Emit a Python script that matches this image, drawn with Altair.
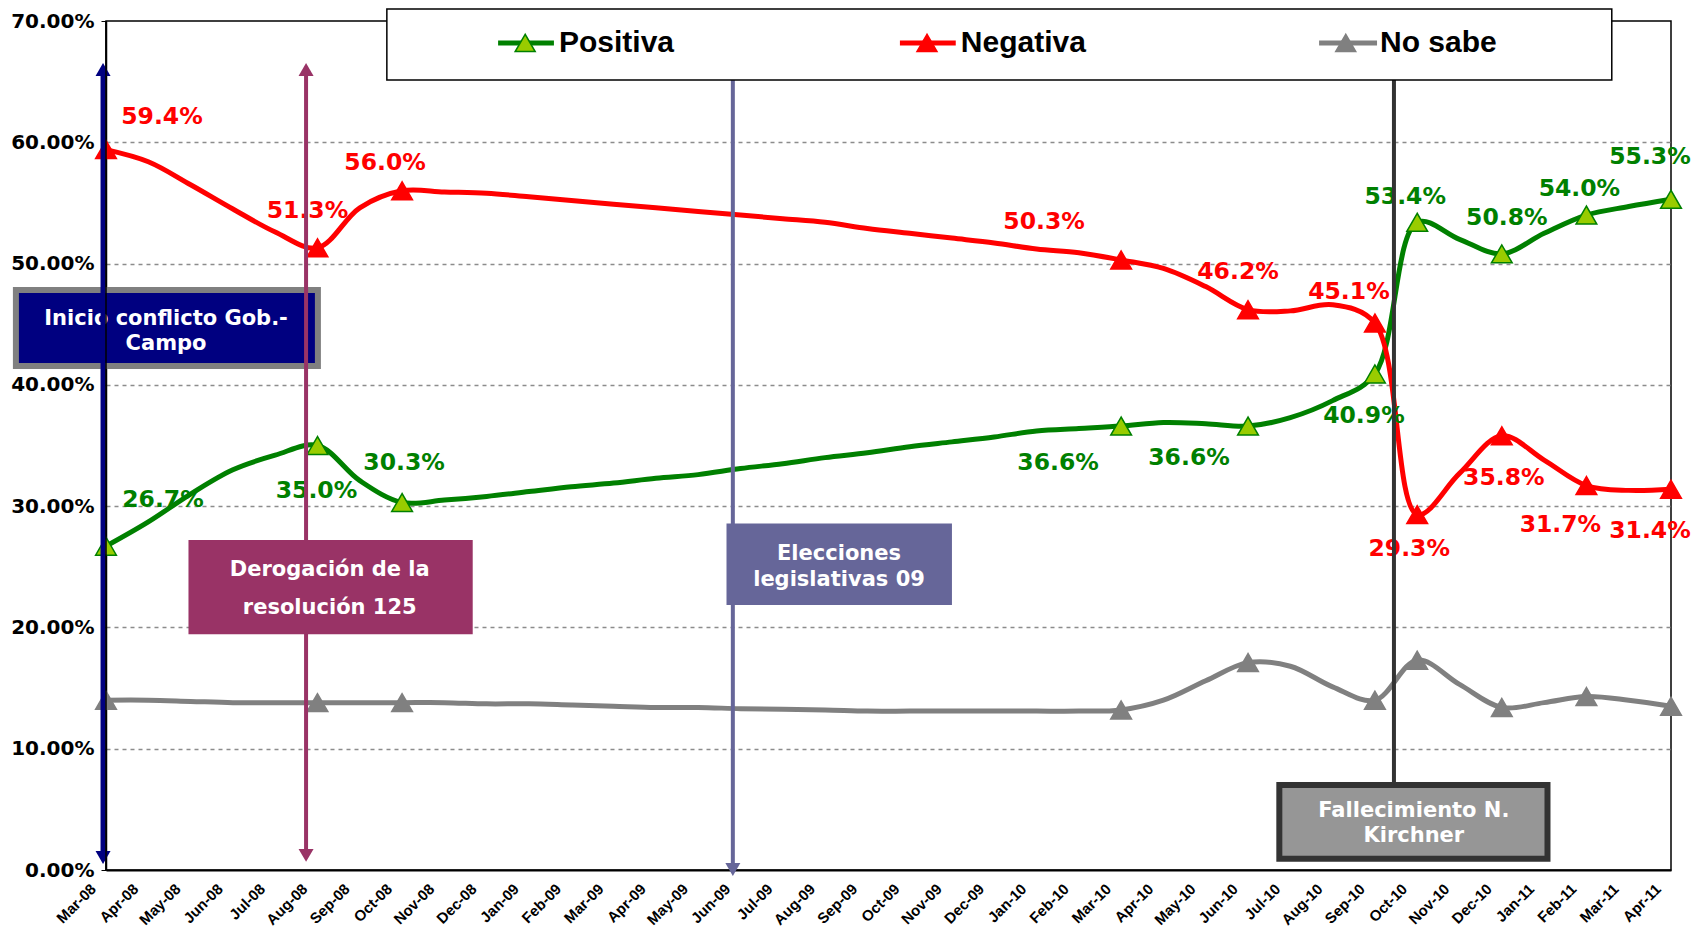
import json
import altair as alt
import pandas as pd

# ---------------- data ----------------
months = ["Mar-08", "Apr-08", "May-08", "Jun-08", "Jul-08", "Aug-08", "Sep-08", "Oct-08", "Nov-08", "Dec-08",
          "Jan-09", "Feb-09", "Mar-09", "Apr-09", "May-09", "Jun-09", "Jul-09", "Aug-09", "Sep-09", "Oct-09",
          "Nov-09", "Dec-09", "Jan-10", "Feb-10", "Mar-10", "Apr-10", "May-10", "Jun-10", "Jul-10", "Aug-10",
          "Sep-10", "Oct-10", "Nov-10", "Dec-10", "Jan-11", "Feb-11", "Mar-11", "Apr-11"]

positiva = [26.7, 28.7, 31.0, 33.0, 34.2, 35.0, 32.1, 30.3, 30.5, 30.8,
            31.2, 31.6, 31.9, 32.3, 32.6, 33.1, 33.5, 34.0, 34.4, 34.9,
            35.3, 35.7, 36.2, 36.4, 36.6, 36.9, 36.8, 36.6, 37.3, 38.7,
            40.9, 53.4, 52.0, 50.8, 52.5, 54.0, 54.7, 55.3]

negativa = [59.4, 58.4, 56.5, 54.5, 52.6, 51.3, 54.6, 56.0, 55.9, 55.8,
            55.5, 55.2, 54.9, 54.6, 54.3, 54.0, 53.7, 53.4, 52.9, 52.5,
            52.1, 51.7, 51.2, 50.9, 50.3, 49.6, 48.1, 46.2, 46.1, 46.6,
            45.1, 29.3, 32.7, 35.8, 33.8, 31.7, 31.3, 31.4]

nosabe = [14.0, 14.0, 13.9, 13.8, 13.8, 13.8, 13.8, 13.8, 13.8, 13.7,
          13.7, 13.6, 13.5, 13.4, 13.4, 13.3, 13.25, 13.2, 13.1, 13.1,
          13.1, 13.1, 13.1, 13.1, 13.2, 14.0, 15.6, 17.1, 16.8, 15.1,
          14.0, 17.3, 15.3, 13.4, 13.8, 14.3, 14.0, 13.5]

marker_months = [0, 5, 7, 24, 27, 30, 31, 33, 35, 37]

series_names = ["Positiva", "Negativa", "No sabe"]
series_values = [positiva, negativa, nosabe]
line_colors = ["#008000", "#FF0000", "#808080"]
marker_fills = ["#99CC00", "#FF0000", "#808080"]

events = ["Inicio conflicto Gob.-\nCampo", "Derogación de la\nresolución 125",
          "Elecciones\nlegislativas 09", "Fallecimiento N.\nKirchner"]

# ---------------- layout / style ----------------
W, H = 1565, 849
X_MAX, Y_MAX = 37, 70
PX_X = W / X_MAX
PX_Y = H / Y_MAX

# pixel offsets of the value labels from their markers (dx, dy)
label_offsets = {
    "Positiva": [(57, -46), (-1, 45), (2, -40), (-63, 37), (-59, 32), (-11, 42), (-12, -25), (5, -36), (-7, -26), (-21, -42)],
    "Negativa": [(56, -33), (-10, -37), (-17, -28), (-77, -38), (-10, -38), (-26, -31), (-8, 34), (2, 42), (-26, 39), (-21, 42)],
}

xscale = alt.Scale(domain=[0, X_MAX], nice=False, zero=False)
yscale = alt.Scale(domain=[0, Y_MAX], nice=False, zero=True)

x_axis = alt.Axis(values=list(range(len(months))), labelExpr=json.dumps(months) + "[datum.value]",
                  labelAngle=-45, labelFont="Liberation Sans", labelFontSize=15, labelFontWeight="bold",
                  labelColor="black", labelOffset=-18, labelPadding=11, labelOverlap=False,
                  ticks=False, tickSize=0, domainColor="black", domainWidth=2, grid=False, title=None)
y_axis = alt.Axis(values=list(range(0, 71, 10)), labelExpr="format(datum.value, '.2f') + '%'",
                  labelFont="DejaVu Sans", labelFontSize=20, labelFontWeight="bold", labelColor="black",
                  labelPadding=7, tickSize=5, tickColor="black", domainColor="black", domainWidth=1.5,
                  grid=True, gridColor="#8c8c8c", gridDash=[4, 4], gridWidth=1.5,
                  gridOpacity={"condition": {"test": "datum.value == 0 || datum.value == 70", "value": 0}, "value": 1},
                  title=None)


def X(f="x"):
    return alt.X(f, type="quantitative", scale=xscale, axis=x_axis)


def Y(f="y"):
    return alt.Y(f, type="quantitative", scale=yscale, axis=y_axis)


color_scale = alt.Scale(domain=series_names, range=line_colors)
fill_scale = alt.Scale(domain=series_names, range=marker_fills)

# ---------------- tables ----------------
rows = []
for name, vals in zip(series_names, series_values):
    for i, v in enumerate(vals):
        rows.append({"series": name, "x": i, "y": v, "month": months[i]})
df_lines = pd.DataFrame(rows)
df_markers = df_lines[df_lines["x"].isin(marker_months)]

lab_rows = []
for name in ["Positiva", "Negativa"]:
    vals = series_values[series_names.index(name)]
    for (dx, dy), i in zip(label_offsets[name], marker_months):
        v = vals[i]
        lab_rows.append({"series": name, "x": i + dx / PX_X, "y": v - dy / PX_Y, "text": f"{v:.1f}%"})
df_labels = pd.DataFrame(lab_rows)

# ---------------- layers ----------------
lines = alt.Chart(df_lines).mark_line(interpolate="catmull-rom", strokeWidth=5).encode(
    x=X(), y=Y(), color=alt.Color("series:N", scale=color_scale, legend=None), detail="series:N")

markers = alt.Chart(df_markers).mark_point(shape="triangle-up", filled=True, size=430, opacity=1,
                                            strokeWidth=1.5).encode(
    x=X(), y=Y(),
    fill=alt.Fill("series:N", scale=fill_scale, legend=None),
    stroke=alt.Stroke("series:N", scale=color_scale, legend=None))

labels = alt.Chart(df_labels).mark_text(font="DejaVu Sans", fontSize=23.5, fontWeight="bold",
                                        align="center", baseline="middle").encode(
    x=X(), y=Y(), text="text:N", color=alt.Color("series:N", scale=color_scale, legend=None))

# annotation boxes: (x, x2, y, y2, fill, stroke, strokeWidth, first-line x, y, line height)
box_layout = [
    (-2.13, 5.01, 47.82, 41.56, "#000080", "#808080", 6, 1.42, 45.43, 25),
    (1.95, 8.67, 27.21, 19.44, "#993366", "#993366", 0, 5.29, 24.70, 38),
    (14.67, 20.0, 28.56, 21.85, "#666699", "#666699", 0, 17.33, 26.06, 26),
    (27.74, 34.08, 7.0, 0.92, "#969696", "#333333", 6, 30.92, 4.83, 25),
]


def box_layers(k):
    x, x2, y, y2, fill, stroke, sw, tx, ty, lh = box_layout[k]
    rect = alt.Chart(pd.DataFrame({"x": [x], "x2": [x2], "y": [y], "y2": [y2]})).mark_rect(
        fill=fill, stroke=stroke, strokeWidth=sw, opacity=1).encode(x=X(), x2="x2", y=Y(), y2="y2")
    txt = alt.Chart(pd.DataFrame({"x": [tx], "y": [ty], "text": [events[k]]})).mark_text(
        font="DejaVu Sans", fontSize=21, fontWeight="bold", color="white", align="center",
        baseline="middle", lineBreak="\n", lineHeight=lh).encode(x=X(), y=Y(), text="text:N")
    return [rect, txt]


# vertical event arrows: x, top, bottom, colour, width, head at top, head at bottom
arrow_layout = [
    (-0.07, 66.54, 0.5, "#000080", 5, True, True),
    (4.73, 66.54, 0.67, "#993366", 4, True, True),
    (14.82, 65.14, -0.49, "#666699", 4, False, True),
    (30.45, 65.14, 7.0, "#333333", 4, False, False),
]
HEAD_H = 6.5 / PX_Y


def arrow_layers(k):
    x, top, bottom, col, w, up, down = arrow_layout[k]
    y1 = top - HEAD_H if up else top
    y2 = bottom + HEAD_H if down else bottom
    out = [alt.Chart(pd.DataFrame({"x": [x], "y": [y1], "y2": [y2]})).mark_rule(
        color=col, strokeWidth=w).encode(x=X(), y=Y(), y2="y2")]
    if up:
        out.append(alt.Chart(pd.DataFrame({"x": [x], "y": [top - HEAD_H]})).mark_point(
            shape="triangle-up", filled=True, size=225, color=col, opacity=1).encode(x=X(), y=Y()))
    if down:
        out.append(alt.Chart(pd.DataFrame({"x": [x], "y": [bottom + HEAD_H]})).mark_point(
            shape="triangle-down", filled=True, size=225, color=col, opacity=1).encode(x=X(), y=Y()))
    return out


axis_rule = alt.Chart(pd.DataFrame({"x": [0], "y": [0], "y2": [Y_MAX]})).mark_rule(
    color="black", strokeWidth=1.5).encode(x=X(), y=Y(), y2="y2")

# legend
leg_box = alt.Chart(pd.DataFrame({"x": [6.64], "x2": [35.6], "y": [70.99], "y2": [65.14]})).mark_rect(
    fill="white", stroke="black", strokeWidth=1.5, opacity=1).encode(x=X(), x2="x2", y=Y(), y2="y2")
leg_df = pd.DataFrame({
    "series": series_names,
    "lx": [9.27, 18.77, 28.68],
    "lx2": [10.59, 20.09, 30.05],
    "mx": [9.91, 19.41, 29.31],
    "tx": [10.71, 20.21, 30.12],
    "y": [68.19] * 3,
})
leg_lines = alt.Chart(leg_df).mark_rule(strokeWidth=5).encode(
    x=X("lx"), x2="lx2", y=Y(), color=alt.Color("series:N", scale=color_scale, legend=None))
leg_marks = alt.Chart(leg_df).mark_point(shape="triangle-up", filled=True, size=400, opacity=1,
                                         strokeWidth=1.5).encode(
    x=X("mx"), y=Y(), fill=alt.Fill("series:N", scale=fill_scale, legend=None),
    stroke=alt.Stroke("series:N", scale=color_scale, legend=None))
leg_text = alt.Chart(leg_df).mark_text(font="Liberation Sans", fontSize=30, fontWeight="bold", color="black",
                                       align="left", baseline="middle").encode(
    x=X("tx"), y=Y(), text="series:N")

layers = [lines, markers, labels]
layers += box_layers(0)
layers += arrow_layers(0) + arrow_layers(1)
layers += [axis_rule]
layers += arrow_layers(2) + arrow_layers(3)
layers += box_layers(1) + box_layers(2) + box_layers(3)
layers += [leg_box, leg_lines, leg_marks, leg_text]

chart = alt.layer(*layers).properties(
    width=W, height=H,
    autosize=alt.AutoSizeParams(type="none"),
    padding={"left": 98, "top": 13, "right": 21, "bottom": 64},
    background="white",
).configure_view(stroke="black", strokeWidth=1.5)

chart.save("out.html", embed_options={"renderer": "svg", "actions": False})
